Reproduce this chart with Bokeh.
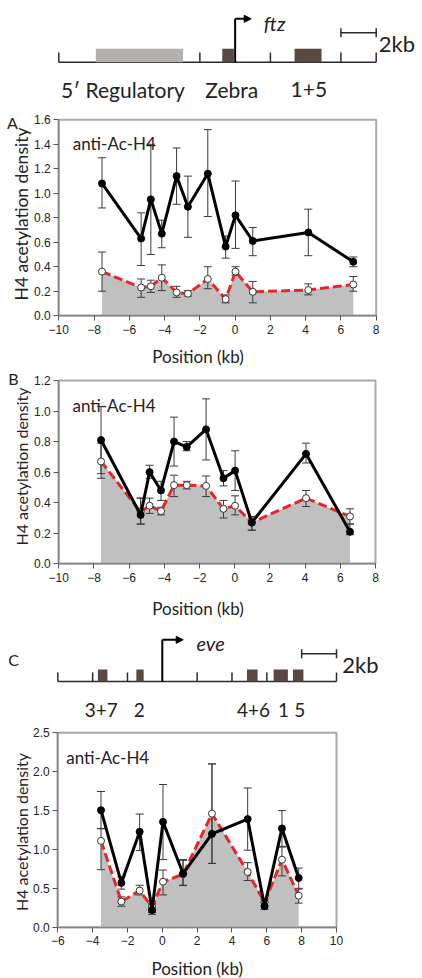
import math
from bokeh.plotting import figure
from bokeh.models import Range1d, FixedTicker, NumeralTickFormatter, LinearAxis, Arrow, NormalHead
from bokeh.layouts import column
from bokeh.embed import file_html
from bokeh.resources import INLINE
from bokeh.core.properties import value

# ---------------- data ----------------
# Panel A (ftz, anti-Ac-H4)
pos_a = [-7.55, -5.33, -4.78, -4.16, -3.32, -2.68, -1.55, -0.54, 0.02, 1.0, 4.15, 6.7]
black_a = [1.08, 0.63, 0.95, 0.67, 1.14, 0.89, 1.16, 0.565, 0.82, 0.61, 0.68, 0.44]
black_a_hi = [1.29, 0.84, 1.40, 0.78, 1.37, 1.14, 1.52, 0.65, 1.10, 0.72, 0.87, 0.48]
black_a_lo = [0.88, 0.41, 0.50, 0.555, 0.91, 0.64, 0.81, 0.47, 0.55, 0.49, 0.49, 0.40]
white_a = [0.36, 0.23, 0.24, 0.31, 0.19, 0.18, 0.30, 0.135, 0.36, 0.195, 0.21, 0.255]
white_a_hi = [0.52, 0.30, 0.29, 0.415, 0.24, 0.205, 0.40, 0.17, 0.40, 0.28, 0.26, 0.32]
white_a_lo = [0.20, 0.15, 0.19, 0.205, 0.15, 0.16, 0.22, 0.105, 0.33, 0.105, 0.17, 0.20]

# Panel B (ftz, anti-Ac-H4)
pos_b = [-7.6, -5.35, -4.84, -4.19, -3.45, -2.73, -1.63, -0.64, 0.02, 0.97, 4.05, 6.55]
black_b = [0.81, 0.32, 0.60, 0.48, 0.80, 0.765, 0.88, 0.56, 0.61, 0.27, 0.72, 0.21]
black_b_hi = [1.03, 0.43, 0.645, 0.54, 0.96, 0.80, 1.08, 0.61, 0.74, 0.31, 0.79, 0.26]
black_b_lo = [0.59, 0.26, 0.56, 0.415, 0.64, 0.74, 0.68, 0.51, 0.48, 0.22, 0.66, 0.19]
white_b = [0.67, 0.34, 0.38, 0.345, 0.515, 0.515, 0.51, 0.36, 0.38, 0.27, 0.43, 0.31]
white_b_hi = [0.79, 0.43, 0.43, 0.37, 0.58, 0.54, 0.575, 0.415, 0.445, 0.30, 0.48, 0.36]
white_b_lo = [0.56, 0.26, 0.33, 0.32, 0.44, 0.49, 0.44, 0.30, 0.32, 0.22, 0.375, 0.26]

# Panel C (eve, anti-Ac-H4)
pos_c = [-3.52, -2.35, -1.30, -0.59, 0.04, 1.19, 2.85, 4.90, 5.87, 6.87, 7.83]
black_c = [1.505, 0.57, 1.227, 0.22, 1.355, 0.69, 1.20, 1.39, 0.27, 1.27, 0.633]
black_c_hi = [1.745, 0.65, 1.455, 0.30, 1.835, 0.87, 2.10, 1.79, 0.32, 1.50, 0.76]
black_c_lo = [1.265, 0.49, 0.985, 0.165, 0.87, 0.54, 0.82, 0.99, 0.23, 1.04, 0.50]
white_c = [1.11, 0.33, 0.47, 0.26, 0.585, 0.68, 1.46, 0.71, 0.32, 0.868, 0.406]
white_c_hi = [1.27, 0.39, 0.54, 0.30, 0.735, 0.86, 2.10, 0.83, 0.36, 1.03, 0.49]
white_c_lo = [0.74, 0.27, 0.415, 0.19, 0.415, 0.535, 0.82, 0.60, 0.28, 0.66, 0.31]

# axis ticks
x_ticks_ab = [-10, -8, -6, -4, -2, 0, 2, 4, 6, 8]
y_ticks_a = [0.0, 0.2, 0.4, 0.6, 0.8, 1.0, 1.2, 1.4, 1.6]
y_ticks_b = [0.0, 0.2, 0.4, 0.6, 0.8, 1.0, 1.2]
x_ticks_c = [-6, -4, -2, 0, 2, 4, 6, 8, 10]
y_ticks_c = [0.0, 0.5, 1.0, 1.5, 2.0, 2.5]

# gene maps (kb)
ftz_map_ticks = [-10, -6, -2, 2, 6, 8]
ftz_box_start = [-7.9, -0.73, 3.37]
ftz_box_end = [-2.95, -0.07, 4.9]
ftz_box_color = ["#b4b0ae", "#5a4941", "#5a4941"]
ftz_labels = ["5\u2032 Regulatory", "Zebra", "1+5"]
ftz_label_x = [-6.36, -0.19, 4.18]
ftz_tss = 0.0
ftz_scale = [6.0, 8.0]

eve_map_ticks = [-6, -4, -2, 2, 4, 6, 8, 10]
eve_box_start = [-3.7, -1.49, 4.86, 6.39, 7.5]
eve_box_end = [-3.15, -1.07, 5.47, 7.21, 8.1]
eve_box_color = ["#5a4941"] * 5
eve_labels = ["3+7", "2", "4+6", "1", "5"]
eve_label_x = [-3.5, -1.33, 5.24, 6.96, 7.89]
eve_tss = 0.0
eve_scale = [8.0, 10.0]

# ---------------- style / layout ----------------
TF = "Lato"
TICKF = "Liberation Sans"
W = 422
LEFT = 0
ERR = "#3a3a3a"
RED = "#e8262a"
GRAY = "#c0c0c0"
TXT = "#222222"


def xmap(k0, k1, px0, px1):
    s = (px1 - px0) / (k1 - k0)
    rng = Range1d(k0 - (px0 - LEFT) / s, k1 + (LEFT + W - px1) / s)
    return rng, (lambda px: k0 + (px - px0) / s)


def base_fig(height, xr, yr):
    p = figure(width=W, height=height, x_range=xr, y_range=yr, toolbar_location=None,
               output_backend="svg", x_axis_location=None, y_axis_location=None, min_border=0)
    p.grid.visible = False
    p.outline_line_color = None
    p.background_fill_color = "white"
    p.border_fill_color = "white"
    return p


def txt(p, x, y, s, size, align="left", baseline="alphabetic", angle=0.0, style="normal"):
    p.text(x=x, y=y, text=s, text_font=value(TF), text_font_size=size, text_font_style=style,
           text_align=align, text_baseline=baseline, angle=angle, text_color=TXT)


def chip_panel(top, height, box, xt, yt, pos, blk, blk_lo, blk_hi, wht, wht_lo, wht_hi,
               letter, letter_xy, ytitle_size, ytitle_xy, xtitle_xy, ab_xy):
    px0, px1, pyt, pyb = box
    xr, X = xmap(xt[0], xt[-1], px0, px1)
    sy = (pyb - pyt) / (yt[-1] - yt[0])
    yr = Range1d(yt[0] - (top + height - pyb) / sy, yt[-1] + (pyt - top) / sy)
    Y = lambda py: yt[0] + (pyb - py) / sy
    p = base_fig(height, xr, yr)

    # plot box
    p.quad(left=[xt[0]], right=[xt[-1]], bottom=[yt[0]], top=[yt[-1]], fill_color=None,
           line_color="#a9a9a9", line_width=2)
    # data
    p.varea(x=pos, y1=[0] * len(pos), y2=wht, fill_color=GRAY)
    for lo, hi in ((wht_lo, wht_hi), (blk_lo, blk_hi)):
        p.segment(x0=pos, y0=lo, x1=pos, y1=hi, line_color=ERR, line_width=1)
        p.scatter(x=pos, y=lo, marker="dash", size=8, line_color=ERR, line_width=1)
        p.scatter(x=pos, y=hi, marker="dash", size=8, line_color=ERR, line_width=1)
    p.line(x=pos, y=wht, line_color=RED, line_width=3, line_dash="9 4")
    p.scatter(x=pos, y=wht, size=7, fill_color="white", line_color="#333333", line_width=1)
    p.line(x=pos, y=blk, line_color="black", line_width=3)
    p.scatter(x=pos, y=blk, size=7, fill_color="black", line_color="black")

    # axes, pinned to the plot box
    xa = LinearAxis(fixed_location=yt[0], bounds=(xt[0], xt[-1]), ticker=FixedTicker(ticks=xt))
    ya = LinearAxis(fixed_location=xt[0], bounds=(yt[0], yt[-1]), ticker=FixedTicker(ticks=yt),
                    formatter=NumeralTickFormatter(format="0.0"))
    for ax in (xa, ya):
        ax.axis_line_color = "#858585"
        ax.axis_line_width = 1.5
        ax.major_tick_line_color = "#555555"
        ax.major_tick_in = 0
        ax.major_tick_out = 5
        ax.minor_tick_line_color = None
        ax.major_label_text_font = TICKF
        ax.major_label_text_font_size = "12px"
        ax.major_label_text_color = TXT
    ya.major_label_standoff = 3
    xa.major_label_standoff = 4
    p.add_layout(xa, "below")
    p.add_layout(ya, "left")

    # titles and labels
    txt(p, [X(ytitle_xy[0])], [Y(ytitle_xy[1])], ["H4 acetylation density"], ytitle_size,
        align="center", angle=math.pi / 2)
    txt(p, [X(xtitle_xy[0])], [Y(xtitle_xy[1])], ["Position (kb)"], "17px", align="center")
    if letter:
        txt(p, [X(letter_xy[0])], [Y(letter_xy[1])], [letter], "16px", align="center")
    txt(p, [X(ab_xy[0])], [Y(ab_xy[1])], ["anti-Ac-H4"], "17px")
    return p


def gene_map(top, height, k0, k1, px0, px1, ticks, bstart, bend, bcolor, labels, label_x,
             label_size, tss, scale, gene, ys, letter=None):
    xr, X = xmap(k0, k1, px0, px1)
    p = base_fig(height, xr, Range1d(top + height, top))   # y in page pixels
    base, tick_top, box_top, arrow_top, arrow_tip, gene_xy, bar_y, kb_xy, lab_base = ys
    p.segment(x0=[k0], y0=[base], x1=[k1], y1=[base], line_color="#2b2b2b", line_width=1.5)
    p.segment(x0=ticks, y0=[tick_top] * len(ticks), x1=ticks, y1=[base] * len(ticks),
              line_color="#2b2b2b", line_width=1.5)
    p.quad(left=bstart, right=bend, top=[box_top] * len(bstart), bottom=[base] * len(bstart),
           fill_color=bcolor, line_color=None)
    # TSS arrow
    p.segment(x0=[tss], y0=[base], x1=[tss], y1=[arrow_top], line_color="black", line_width=2)
    p.add_layout(Arrow(end=NormalHead(size=7, fill_color="black", line_color="black"),
                       x_start=tss, y_start=arrow_top, x_end=X(arrow_tip), y_end=arrow_top,
                       line_color="black", line_width=2))
    txt(p, [X(gene_xy[0])], [gene_xy[1]], [gene], "20px", style="italic")
    # 2 kb scale bar
    p.segment(x0=[scale[0]], y0=[bar_y], x1=[scale[1]], y1=[bar_y], line_color="#2b2b2b", line_width=1.5)
    p.segment(x0=scale, y0=[bar_y - 4.5] * 2, x1=scale, y1=[bar_y + 4.5] * 2,
              line_color="#2b2b2b", line_width=1.5)
    txt(p, [X(kb_xy[0])], [kb_xy[1]], ["2kb"], "22px")
    txt(p, label_x, [lab_base] * len(labels), labels, label_size, align="center")
    if letter:
        txt(p, [X(letter[1])], [letter[2]], [letter[0]], "16px", align="center")
    return p


# page layout (y in page pixels)
fig_ftz = gene_map(0, 104, -10, 8, 58.3, 375.7, ftz_map_ticks, ftz_box_start, ftz_box_end,
                   ftz_box_color, ftz_labels, ftz_label_x, "21px", ftz_tss, ftz_scale, "ftz",
                   (61.7, 52, 48.3, 18.3, 250.7, (263.3, 22.7), 32.3, (378.3, 43.3), 89.3))
fig_a = chip_panel(104, 262, (58.3, 375.7, 119.3, 315.2), x_ticks_ab, y_ticks_a,
                   pos_a, black_a, black_a_lo, black_a_hi, white_a, white_a_lo, white_a_hi,
                   "A", (12, 122.3), "17.5px", (20.7, 213.5), (197.5, 356.0), (72.3, 143.3))
fig_b = chip_panel(366, 252, (58.3, 375.0, 380.0, 563.3), x_ticks_ab, y_ticks_b,
                   pos_b, black_b, black_b_lo, black_b_hi, white_b, white_b_lo, white_b_hi,
                   "B", (13, 378.0), "16px", (21.0, 466.0), (197.5, 607.5), (72.0, 405.0))
fig_eve = gene_map(618, 105, -6, 10, 57.3, 336.0, eve_map_ticks, eve_box_start, eve_box_end,
                   eve_box_color, eve_labels, eve_label_x, "19px", eve_tss, eve_scale, "eve",
                   (681, 672, 669, 639.3, 182.7, (196, 642), 653.3, (341.7, 664), 709),
                   letter=("C", 13, 659.3))
fig_c = chip_panel(723, 255, (57.3, 336.0, 732.3, 926.7), x_ticks_c, y_ticks_c,
                   pos_c, black_c, black_c_lo, black_c_hi, white_c, white_c_lo, white_c_hi,
                   "", (13, 740), "16px", (21.0, 831.5), (196.7, 967.5), (65.7, 757.0))

layout = column(fig_ftz, fig_a, fig_b, fig_eve, fig_c, spacing=0)
open("out.html", "w").write(file_html(layout, INLINE))
